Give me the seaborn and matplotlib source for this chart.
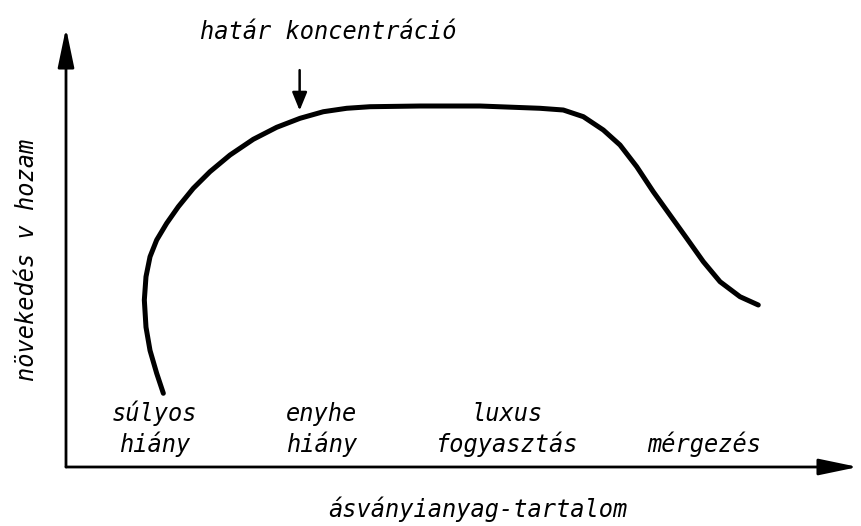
import matplotlib
matplotlib.use("Agg")
import matplotlib.pyplot as plt
import pandas as pd
import seaborn as sns

# response curve (x: mineral content, y: growth / yield, 0-100 scale)
curve_x = [12.29, 11.45, 10.61, 10.10, 9.89, 10.10, 10.61, 11.45, 12.71, 14.18, 16.07,
           18.18, 20.71, 23.65, 26.60, 29.55, 32.49, 35.44, 38.38, 44.70, 52.27, 59.85,
           62.79, 65.32, 67.84, 69.95, 72.06, 74.15, 76.26, 78.37, 80.47, 82.58, 85.10,
           87.41]
curve_y = [16.79, 21.34, 26.54, 31.85, 38.04, 43.35, 47.90, 51.71, 55.51, 59.29, 63.48,
           67.27, 71.07, 74.65, 77.38, 79.43, 80.93, 81.71, 82.07, 82.23, 82.23, 81.71,
           81.32, 79.80, 76.77, 73.35, 68.41, 62.71, 57.40, 52.10, 46.77, 42.21, 38.79,
           36.90]

# zones along the x axis
zone_labels = ["súlyos\nhiány", "enyhe\nhiány", "luxus\nfogyasztás", "mérgezés"]
zone_x = [11.2, 32.3, 55.7, 80.6]

critical_label = "határ koncentráció"
critical_x = 29.5

x_title = "ásványianyag-tartalom"
y_title = "növekedés v hozam"

FONT = ["DejaVu Sans Mono", "DejaVu Sans"]


def main():
    sns.set_theme(style="white")
    plt.rcParams["font.family"] = FONT

    fig = plt.figure(figsize=(8.61, 5.26), dpi=100)
    ax = fig.add_axes([66 / 861, 59 / 526, 792 / 861, 439 / 526])

    df = pd.DataFrame({"x": curve_x, "y": curve_y})
    sns.lineplot(data=df, x="x", y="y", sort=False, estimator=None,
                 color="black", lw=3.6, ax=ax, solid_capstyle="round",
                 solid_joinstyle="round")

    ax.set_xlim(0, 100)
    ax.set_ylim(0, 100)
    ax.set_xticks([])
    ax.set_yticks([])
    for s in ax.spines.values():
        s.set_visible(False)

    # axes drawn as arrows
    axis_arrow = dict(arrowstyle="-|>,head_length=2.4,head_width=0.5", color="black",
                      lw=2, mutation_scale=10, shrinkA=0, shrinkB=0)
    ax.annotate("", xy=(0, 1), xytext=(0, 0), xycoords="axes fraction",
                arrowprops=axis_arrow, annotation_clip=False)
    ax.annotate("", xy=(1, 0), xytext=(0, 0), xycoords="axes fraction",
                arrowprops=axis_arrow, annotation_clip=False)

    txt = dict(fontsize=17, style="italic", color="black")

    # critical concentration marker
    ax.annotate("", xy=(critical_x, 81.2), xytext=(critical_x, 90.4),
                arrowprops=dict(arrowstyle="-|>,head_length=1.1,head_width=0.45",
                                color="black", lw=1.8, mutation_scale=10,
                                shrinkA=0, shrinkB=0))
    ax.text(33.1, 99.1, critical_label, ha="center", va="center", clip_on=False, **txt)

    for label, x in zip(zone_labels, zone_x):
        ax.text(x, 3.4, label, ha="center", va="baseline", multialignment="center",
                linespacing=1.25, **txt)

    ax.set_xlabel(x_title, **txt)
    ax.xaxis.set_label_coords(0.52, -0.068)
    ax.set_ylabel(y_title, **txt)
    ax.yaxis.set_label_coords(-0.034, 0.472)

    fig.savefig("out.png", dpi=100, facecolor="white")


if __name__ == "__main__":
    main()
